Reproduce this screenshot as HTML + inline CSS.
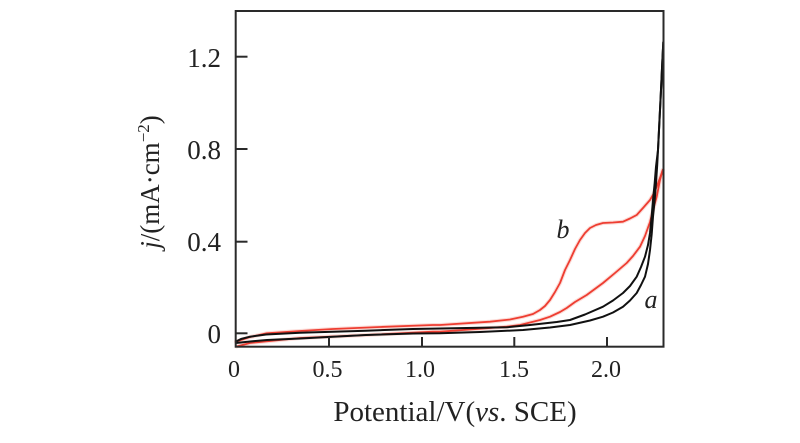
<!DOCTYPE html>
<html>
<head>
<meta charset="utf-8">
<style>
  html,body{margin:0;padding:0;background:#fff;}
  svg{display:block;}
  text{font-family:"Liberation Serif","Times New Roman",serif;fill:#222;}
</style>
</head>
<body>
<svg width="800" height="443" viewBox="0 0 800 443" xmlns="http://www.w3.org/2000/svg">
  <rect x="0" y="0" width="800" height="443" fill="#fff"/>

  <!-- red halo -->
  <g fill="none" stroke="#f7b3aa" stroke-width="4" stroke-linejoin="round" stroke-linecap="round" opacity="0.45">
    <polyline points="236,341.7 250,337 266.7,333.3 300,331 333,329 380,327 433,325 440,325 490,321.7 510,319.5 523,316.7 533,314 540,310 545,306 550,300 555,292 560,283 565,270 570,260 575,249 580,240 585,233 590,228 596,225 603,223 613,222.5 623,221.7 630,218.5 636.7,215 643,208 650,200 653.5,194 656.7,186.7 660,178 662.7,170"/>
    <polyline points="662.7,170 660,180 656.7,196.7 653,210 650,222 645,236 640,246.7 633,256 626.7,263 615,273 603,283 586.7,295 575,302 566.7,308 560,312 550,316.7 540,320 520,325 506.7,326.7 470,329.5 440,331.7 433,331.7 366.7,335 300,338 250,343 236.7,346.5"/>
  </g>

  <!-- red curves (b) -->
  <g fill="none" stroke="#ee3d31" stroke-width="1.8" stroke-linejoin="round" stroke-linecap="round">
    <polyline points="236,341.7 250,337 266.7,333.3 300,331 333,329 380,327 433,325 440,325 490,321.7 510,319.5 523,316.7 533,314 540,310 545,306 550,300 555,292 560,283 565,270 570,260 575,249 580,240 585,233 590,228 596,225 603,223 613,222.5 623,221.7 630,218.5 636.7,215 643,208 650,200 653.5,194 656.7,186.7 660,178 662.7,170"/>
    <polyline points="662.7,170 660,180 656.7,196.7 653,210 650,222 645,236 640,246.7 633,256 626.7,263 615,273 603,283 586.7,295 575,302 566.7,308 560,312 550,316.7 540,320 520,325 506.7,326.7 470,329.5 440,331.7 433,331.7 366.7,335 300,338 250,343 236.7,346.5"/>
  </g>

  <!-- black curves (a) -->
  <g fill="none" stroke="#111" stroke-width="2" stroke-linejoin="round" stroke-linecap="round">
    <polyline points="236,343 250,341.5 267,340 300,338.5 333,336.7 366,335 413,333.5 440,333.3 480,332 523,330 550,327.5 570,325 590,320.5 603,316.7 613,312.5 623,306.7 630,300.5 636.7,293 641,285 645,276.7 648,264 650,250 651.7,234 653,216.7 654.7,200 656,183 657.2,165 658,150 659.5,120 661,90 662.3,62 663.3,42"/>
    <polyline points="236,341.5 241,339 250,336.7 266,334.5 300,332.7 366,330.7 413,329 440,328.5 480,327.8 506.7,327.3 530,325 556.7,322 570,320 585,314.5 603,306.7 613,300.5 623,293 630,286 636.7,276.7 641,267 645,256.7 648,245 650,233 651.7,216 653,200 654.7,183 656,166.7 658,150 659.5,120 661,90 662.3,62 663.3,42"/>
  </g>

  <!-- frame -->
  <rect x="235.7" y="11" width="427.8" height="335.7" fill="none" stroke="#2a2a2a" stroke-width="2"/>

  <!-- y ticks -->
  <g stroke="#2a2a2a" stroke-width="2">
    <line x1="235.7" y1="56.7" x2="247.5" y2="56.7"/>
    <line x1="235.7" y1="149" x2="247.5" y2="149"/>
    <line x1="235.7" y1="241.7" x2="247.5" y2="241.7"/>
    <line x1="235.7" y1="333.3" x2="247.5" y2="333.3"/>
    <!-- x ticks -->
    <line x1="329" y1="346.7" x2="329" y2="337"/>
    <line x1="422" y1="346.7" x2="422" y2="337"/>
    <line x1="514.3" y1="346.7" x2="514.3" y2="337"/>
    <line x1="607" y1="346.7" x2="607" y2="337"/>
  </g>

  <!-- y tick labels -->
  <g font-size="27" text-anchor="end">
    <text x="221" y="67">1.2</text>
    <text x="221" y="159">0.8</text>
    <text x="221" y="251">0.4</text>
    <text x="221" y="343">0</text>
  </g>

  <!-- x tick labels -->
  <g font-size="24" text-anchor="middle">
    <text x="234" y="377">0</text>
    <text x="327.5" y="377">0.5</text>
    <text x="420" y="377">1.0</text>
    <text x="514" y="377">1.5</text>
    <text x="606" y="377">2.0</text>
  </g>

  <!-- x axis label -->
  <text x="455" y="421" font-size="29" text-anchor="middle">Potential/V(<tspan font-style="italic">vs</tspan>. SCE)</text>

  <!-- y axis label -->
  <text transform="translate(159,182) rotate(-90)" font-size="27" text-anchor="middle"><tspan font-style="italic">j</tspan>/(mA·cm<tspan font-size="17" dy="-10">−2</tspan><tspan dy="10">)</tspan></text>

  <!-- curve labels -->
  <text x="563" y="238" font-size="26" font-style="italic" text-anchor="middle">b</text>
  <text x="651" y="308" font-size="26" font-style="italic" text-anchor="middle">a</text>
</svg>
</body>
</html>
